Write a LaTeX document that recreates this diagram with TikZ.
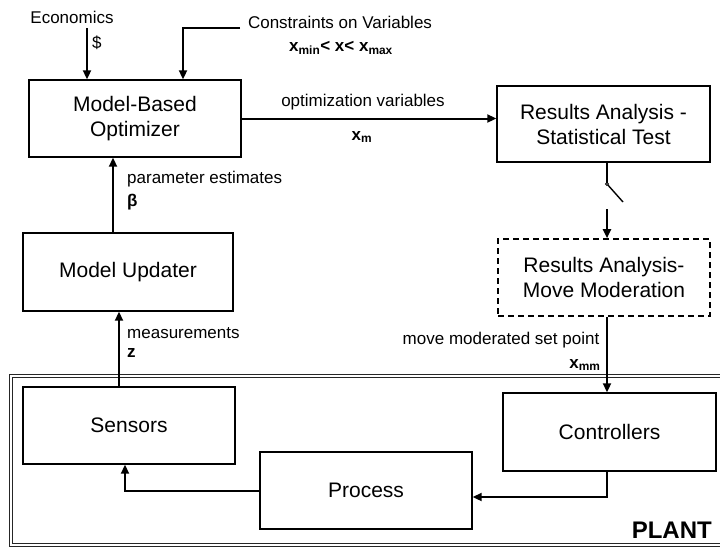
\documentclass[tikz,border=0pt]{standalone}
\usepackage{fontspec}
\setmainfont{Liberation Sans}
\usetikzlibrary{arrows.meta,calc}
\begin{document}
\begin{tikzpicture}[x=1pt,y=-1pt,
  blk/.style={draw,line width=1.4pt,minimum width=#1,align=center,
    font=\fontsize{21}{25}\selectfont,inner sep=0pt},
  blk/.default=212pt,
  lbl/.style={font=\fontsize{17}{20}\selectfont,inner sep=0pt},
  blbl/.style={font=\fontsize{17}{20}\selectfont\bfseries,inner sep=0pt},
  arr/.style={line width=2pt,-{Triangle[length=9pt,width=8pt]}},
  conn/.style={line width=2pt},
  plantline/.style={line width=1pt,draw=black!85}]
\useasboundingbox (0,0) rectangle (720,547);
% plant frame (double line)
\draw[plantline] (720,374.5) -- (9.5,374.5) -- (9.5,546.5) -- (720,546.5);
\draw[plantline] (720,377.5) -- (12.5,377.5) -- (12.5,543.5) -- (720,543.5);
\node[font=\fontsize{24}{28}\selectfont\bfseries,anchor=east,inner sep=0pt] (plant) at (712,530) {PLANT};
% blocks
\node[blk=212pt,minimum height=77pt] (opt) at (135,118.5) {Model-Based\\Optimizer};
\node[blk=213pt,minimum height=76pt] (res) at (603.5,124) {Results Analysis -\\Statistical Test};
\node[blk=212pt,minimum height=77pt,dash pattern=on 6pt off 4pt,line width=1.6pt] (mod) at (604,277.5) {Results Analysis-\\Move Moderation};
\node[blk=210pt,minimum height=78pt] (upd) at (128,272) {Model Updater};
\node[blk=212pt,minimum height=77pt] (sen) at (129,425.5) {Sensors};
\node[blk=212pt,minimum height=77pt] (proc) at (366,490.5) {Process};
\node[blk=213pt,minimum height=78pt] (ctl) at (609.5,432) {Controllers};
% top inputs
\node[lbl] (econ) at (72,17) {Economics};
\node[lbl,anchor=west] (dollar) at (92,43) {\$};
\coordinate (ecotop) at (87,28);
\draw[arr] (ecotop) -- (ecotop |- opt.north);
\node[lbl] (cons) at (340,22) {Constraints on Variables};
\node[blbl] (xlim) at (341,48) {x\textsubscript{min}< x< x\textsubscript{max}};
\coordinate (contop) at (240,28);
\coordinate (conbend) at (183,28);
\draw[arr] (contop) -- (conbend) -- (conbend |- opt.north);
% optimizer -> results
\draw[arr] (opt.east) -- (opt.east -| res.west);
\node[lbl] (optvar) at (363,102) {optimization variables};
\node[blbl] (xm) at (362,137) {x\textsubscript{m}};
% switch
\coordinate (swa) at (607,184);
\coordinate (swb) at (623,202);
\coordinate (swc) at (607,209);
\draw[line width=1.4pt] (res.south -| swa) -- ([yshift=1.5pt]swa);
\draw[line width=0.8pt] (swa) circle[radius=1.5pt];
\draw[line width=1.4pt] ($(swa)!1.5pt!(swb)$) -- (swb);
\draw[arr] (swc) -- (swc |- mod.north);
% moderation -> controllers
\draw[arr] (mod.south -| swa) -- (ctl.north -| swa);
\node[lbl] (mmsp) at (501,340) {move moderated set point};
\node[blbl] (xmm) at (585,365) {x\textsubscript{mm}};
% plant loop
\draw[arr] (ctl.south -| swa) |- ([yshift=-6.5pt]proc.east);
\draw[arr] (proc.west) -| ([xshift=-4pt]sen.south);
% measurements
\coordinate (mx) at (119,0);
\draw[arr] (sen.north -| mx) -- (upd.south -| mx);
\node[lbl,anchor=west] (meas) at (127,333) {measurements};
\node[blbl,anchor=west] (zz) at (127,353) {z};
% parameter estimates
\coordinate (px) at (113,0);
\draw[arr] (upd.north -| px) -- (opt.south -| px);
\node[lbl,anchor=west] (pest) at (127,179) {parameter estimates};
\node[blbl,anchor=west] (beta) at (127,202) {β};
\end{tikzpicture}
\end{document}
